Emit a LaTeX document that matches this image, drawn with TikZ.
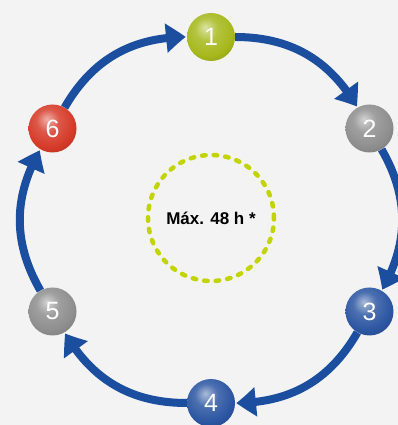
\documentclass[tikz,border=0pt]{standalone}
\usepackage{fontspec}
\setsansfont{Liberation Sans}
\usepackage{xcolor}
\usetikzlibrary{arrows.meta,bending}
\definecolor{bgray}{HTML}{F3F3F3}
\definecolor{arrblue}{HTML}{1B4E9E}
\definecolor{limeg}{HTML}{A6B81C}
\definecolor{dotg}{HTML}{C2D500}
\definecolor{ballgray}{HTML}{8E8E8E}
\definecolor{ballblue}{HTML}{2C56A2}
\definecolor{ballred}{HTML}{D63A28}
% soft lit balls
\newcommand\mkballshade[2]{%
  \pgfdeclareradialshading{#1}{\pgfpoint{-6bp}{10bp}}{%
    color(0bp)=(#2!40!white); color(12bp)=(#2!85!white);
    color(26bp)=(#2); color(42bp)=(#2!75!black); color(52bp)=(#2!55!black);
    color(70bp)=(#2!50!black)}}
\mkballshade{shg}{limeg}
\mkballshade{shs}{ballgray}
\mkballshade{shb}{ballblue}
\mkballshade{shr}{ballred}
\tikzset{
  ball/.style={circle,minimum size=48pt,inner sep=0pt,text=white,
    font=\sffamily\fontsize{25}{25}\selectfont},
  arr/.style={arrblue,line width=8pt,-{Triangle[length=20pt,width=28pt,bend]},
    shorten >=1pt,bend left=30}
}
\begin{document}
\begin{tikzpicture}[x=1pt,y=1pt]
\fill[bgray](0,0)rectangle(398,425);
\useasboundingbox(0,0)rectangle(398,425);
\begin{scope}[shift={(211,205)}]
% the six steps
\node[ball,shading=shg](b1)at(90:183){1};
\node[ball,shading=shs](b2)at(30:183){2};
\node[ball,shading=shb](b3)at(-30:183){3};
\node[ball,shading=shb](b4)at(-90:183){4};
\node[ball,shading=shs](b5)at(-150:183){5};
\node[ball,shading=shr](b6)at(150:183){6};
% the cycle
\draw[arr](b1)to(b2);
\draw[arr](b2)to(b3);
\draw[arr](b3)to(b4);
\draw[arr](b4)to(b5);
\draw[arr](b5)to(b6);
\draw[arr](b6)to(b1);
% time limit
\draw[dotg,line width=4.5pt,line cap=round,dash pattern=on 3.5pt off 8.1pt](0,2)circle[radius=63];
\node[font=\sffamily\bfseries\fontsize{17}{17}\selectfont](lim)at(0,2){Máx. 48 h *};
\end{scope}
\end{tikzpicture}
\end{document}
